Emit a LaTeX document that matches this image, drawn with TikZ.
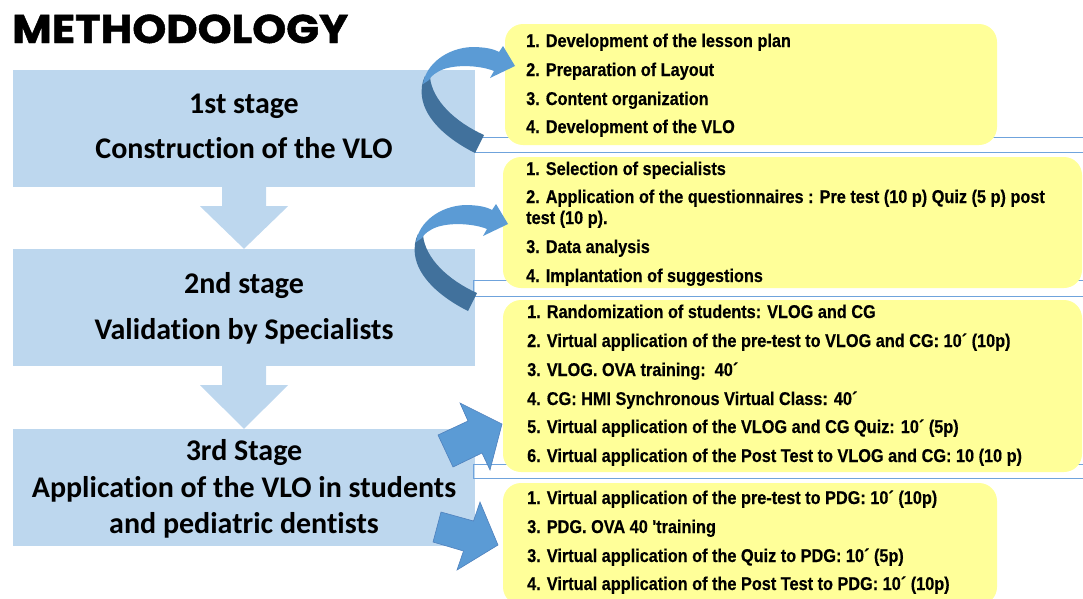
\documentclass[tikz,border=0pt]{standalone}
\usepackage{fontspec}
\setmainfont{Carlito}[Ligatures=CommonOff]
\newfontfamily\yfont{Liberation Sans}[FakeStretch=0.88, BoldFeatures={FakeBold=0.4}]
\newfontfamily\tfont{Poppins}[BoldFeatures={FakeBold=1.2}]
\usetikzlibrary{calc}
\definecolor{stageblue}{HTML}{BDD7EE}
\definecolor{ybox}{HTML}{FFFF99}
\definecolor{arrowlight}{HTML}{5B9BD5}
\definecolor{arrowdark}{HTML}{41719C}
\definecolor{lineblue}{HTML}{6FA3DC}
\definecolor{blockedge}{HTML}{4F81BD}
\begin{document}
\begin{tikzpicture}[x=1pt,y=-1pt,
  stagebox/.style={fill=stageblue, draw=none, inner sep=0pt, minimum width=462pt},
  stagetext/.style={font=\bfseries\fontsize{30}{36}\selectfont, anchor=base, inner sep=0pt},
  itembox/.style={fill=ybox, draw=none, rounded corners=18pt, inner sep=0pt},
  itemtext/.style={font=\yfont\bfseries\fontsize{18.5}{21}\selectfont, anchor=base west, inner sep=0pt},
  outline/.style={draw=lineblue, line width=1pt},
  downarrow/.style={fill=stageblue},
  blockarrow/.style={fill=arrowlight, draw=blockedge, line width=0.6pt, line join=miter},
]
\useasboundingbox (0,0) rectangle (1083,598);
\clip (0,0) rectangle (1083,598);

% title
\node[anchor=base west, inner sep=0pt] (title) at (12,43) {\scalebox{1.08}[1]{\tfont\bfseries\fontsize{40}{40}\selectfont METHODOLOGY}};

% stage boxes
\node[stagebox, minimum height=117pt] (s1) at (244,128.5) {};
\node[stagebox, minimum height=117pt] (s2) at (244,307.5) {};
\node[stagebox, minimum height=117pt] (s3) at (244,487.5) {};

\node[stagetext] (s1a) at (244,113) {1st stage};
\node[stagetext] (s1b) at (244,158) {Construction of the VLO};
\node[stagetext] (s2a) at (244,293) {2nd stage};
\node[stagetext] (s2b) at (244,339) {Validation by Specialists};
\node[stagetext] (s3a) at (244,460) {3rd Stage};
\node[stagetext] (s3b) at (244,497) {Application of the VLO in students};
\node[stagetext] (s3c) at (244,533) {and pediatric dentists};

% down arrows between stages
\fill[downarrow] ($(s1.south)+(-22,0)$) -- ($(s1.south)+(22,0)$) -- ($(s1.south)+(22,19)$)
  -- ($(s1.south)+(44,19)$) -- (s2.north) -- ($(s1.south)+(-44,19)$) -- ($(s1.south)+(-22,19)$) -- cycle;
\fill[downarrow] ($(s2.south)+(-22,0)$) -- ($(s2.south)+(22,0)$) -- ($(s2.south)+(22,19)$)
  -- ($(s2.south)+(44,19)$) -- (s3.north) -- ($(s2.south)+(-44,19)$) -- ($(s2.south)+(-22,19)$) -- cycle;

% thin outline strips
\draw[outline] (1090,137) -| (475,152) -- (1090,152);
\draw[outline] (1090,280) -| (473,296) -- (1090,296);
\draw[outline] (1090,464) -| (473,478) -- (1090,478);

% yellow boxes
\node[itembox, minimum width=492pt, minimum height=121pt] (ba) at (751,84.5) {};
\node[itembox, minimum width=579pt, minimum height=131pt] (bb) at (792.5,222.5) {};
\node[itembox, minimum width=579pt, minimum height=172pt] (bc) at (792.5,386) {};
\node[itembox, minimum width=494pt, minimum height=122pt] (bd) at (750,544) {};

% box A text
\node[itemtext] (a1) at (526,47) {1. Development of the lesson plan};
\node[itemtext] (a2) at (526,76) {2. Preparation of Layout};
\node[itemtext] (a3) at (526,105) {3. Content organization};
\node[itemtext] (a4) at (526,133) {4. Development of the VLO};
% box B text
\node[itemtext] (b1) at (526,175) {1. Selection of specialists};
\node[itemtext] (b2) at (526,203) {2. Application of the questionnaires : Pre test (10 p) Quiz (5 p) post};
\node[itemtext] (b2b) at (526,224) {test (10 p).};
\node[itemtext] (b3) at (526,253) {3. Data analysis};
\node[itemtext] (b4) at (526,282) {4. Implantation of suggestions};
% box C text
\node[itemtext] (c1) at (527,318) {1. Randomization of students: VLOG and CG};
\node[itemtext] (c2) at (527,347) {2. Virtual application of the pre-test to VLOG and CG: 10´ (10p)};
\node[itemtext] (c3) at (527,376) {3. VLOG. OVA training:\ \ 40´};
\node[itemtext] (c4) at (527,405) {4. CG: HMI Synchronous Virtual Class: 40´};
\node[itemtext] (c5) at (527,433) {5. Virtual application of the VLOG and CG Quiz: 10´ (5p)};
\node[itemtext] (c6) at (527,462) {6. Virtual application of the Post Test to VLOG and CG: 10 (10 p)};
% box D text
\node[itemtext] (d1) at (527,504) {1. Virtual application of the pre-test to PDG: 10´ (10p)};
\node[itemtext] (d2) at (527,533) {3. PDG. OVA 40 'training};
\node[itemtext] (d3) at (527,562) {3. Virtual application of the Quiz to PDG: 10´ (5p)};
\node[itemtext] (d4) at (527,590) {4. Virtual application of the Post Test to PDG: 10´ (10p)};

% curved arrows (stage 1 and stage 2)
\foreach \dy/\dx in {-158/7, 0/0} {
  \begin{scope}[shift={(\dx,\dy)}]
    \fill[arrowdark] (468,311) .. controls (440,297) and (418,277) .. (415,255)
      .. controls (414,247) and (415,240) .. (418,234) -- (423,235)
      .. controls (425,258) and (448,280) .. (477,293) -- cycle;
    \fill[arrowlight] (416,242) .. controls (419,222) and (440,206) .. (465,205)
      .. controls (478,205) and (487,207) .. (492,210) -- (496,204) -- (508,224) -- (483,236) -- (487,229)
      .. controls (475,224) and (452,222) .. (437,227)
      .. controls (429,230) and (424,234) .. (422,238) -- cycle;
  \end{scope}
}

% block arrows from stage 3
\path[blockarrow] (438,435) -- (468,421) -- (460,403) -- (502,424) -- (490,470) -- (482,453) -- (453,467) -- cycle;
\path[blockarrow] (441,512) -- (473.5,521) -- (480,502) -- (498,545) -- (457,570) -- (463.5,551) -- (433,542) -- cycle;
\end{tikzpicture}
\end{document}
